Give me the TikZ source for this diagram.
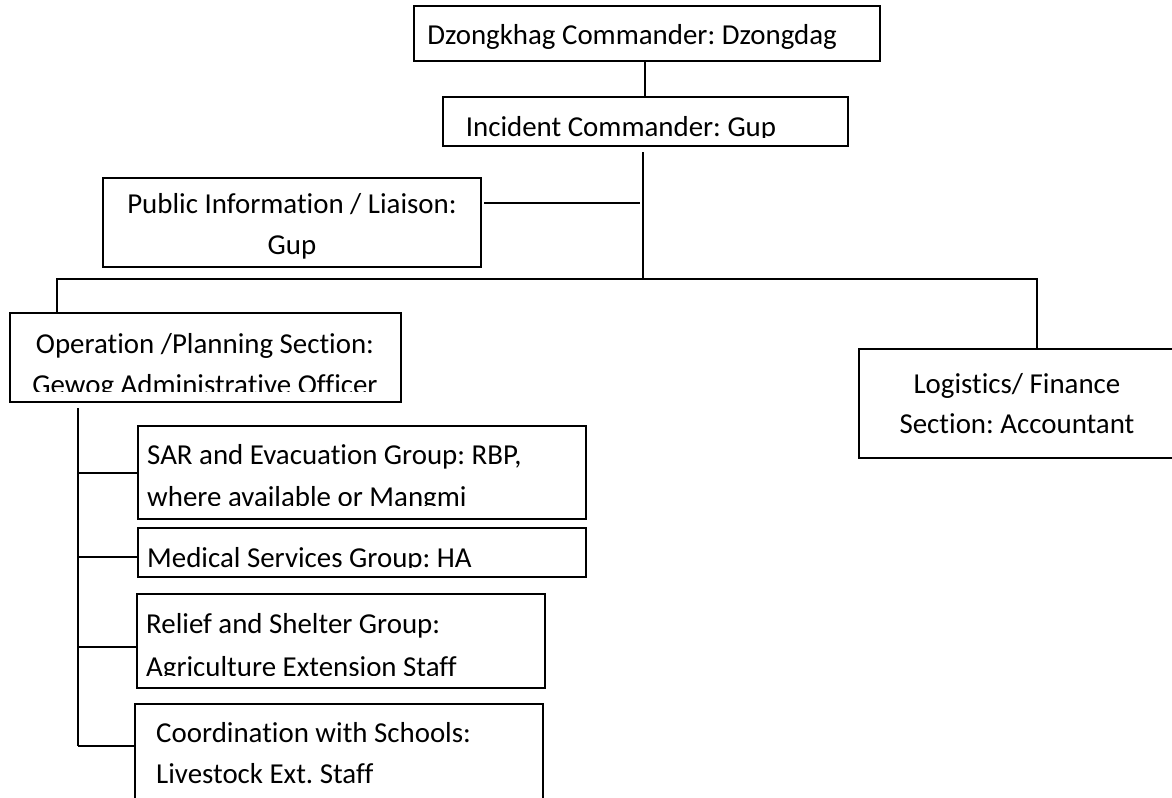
\documentclass[tikz,border=0pt]{standalone}
\usepackage{fontspec}
\setmainfont{Carlito}[Ligatures=NoCommon]
\frenchspacing
\begin{document}
\begin{tikzpicture}[x=1bp,y=-1bp,
  box/.style={draw,line width=1.6bp,inner sep=0pt,outer sep=0pt},
  txt/.style={inner sep=0pt,font=\fontsize{29}{41}\selectfont},
  conn/.style={line width=1.6bp}]
\useasboundingbox (0,0) rectangle (1172,798);
% boxes
\node[box,minimum width=466bp,minimum height=55bp] (dz) at (647,33.5) {};
\node[box,minimum width=405bp,minimum height=49bp] (ic) at (645.5,121.5) {};
\node[box,minimum width=378bp,minimum height=89bp] (pi) at (292,222.5) {};
\node[box,minimum width=391bp,minimum height=89bp] (op) at (205.5,357.5) {};
\node[box,minimum width=326bp,minimum height=109bp] (lf) at (1022,403.5) {};
\node[box,minimum width=448bp,minimum height=93bp] (sar) at (362,472.5) {};
\node[box,minimum width=448bp,minimum height=49bp] (med) at (362,552.5) {};
\node[box,minimum width=408bp,minimum height=94bp] (rel) at (341,641) {};
\node[box,minimum width=408bp,minimum height=106bp] (co) at (339,757) {};
% texts
\node[txt,anchor=base] (dzt) at (632,45) {Dzongkhag Commander: Dzongdag};
\begin{scope}
  \clip (ic.north west) rectangle ([yshift=9bp]ic.south east);
  \node[txt,anchor=base] (ict) at (621,136) {Incident Commander: Gup};
\end{scope}
\node[txt,anchor=base] (pit1) at (292,213) {Public Information / Liaison:};
\node[txt,anchor=base] (pit2) at (292,254) {Gup};
\node[txt,anchor=base] (opt1) at (205,353) {Operation /Planning Section:};
\begin{scope}
  \clip (op.north west) rectangle ([yshift=11bp]op.south east);
  \node[txt,anchor=base] (opt2) at (205,394) {Gewog Administrative Officer};
\end{scope}
\node[txt,anchor=base] (lft1) at (1017,393) {Logistics/ Finance};
\node[txt,anchor=base] (lft2) at (1017,433) {Section: Accountant};
\node[txt,anchor=base west] (sart1) at (147,464) {SAR and Evacuation Group: RBP,};
\begin{scope}
  \clip (sar.north west) rectangle ([yshift=14bp]sar.south east);
  \node[txt,anchor=base west] (sart2) at (147,506) {where available or Mangmi};
\end{scope}
\begin{scope}
  \clip (med.north west) rectangle ([yshift=10bp]med.south east);
  \node[txt,anchor=base west] (medt) at (147,567) {Medical Services Group: HA};
\end{scope}
\node[txt,anchor=base west] (relt1) at (146,633) {Relief and Shelter Group:};
\begin{scope}
  \clip (rel.north west) rectangle ([yshift=13bp]rel.south east);
  \node[txt,anchor=base west] (relt2) at (146,676) {Agriculture Extension Staff};
\end{scope}
\node[txt,anchor=base west] (cot1) at (156,742) {Coordination with Schools:};
\node[txt,anchor=base west] (cot2) at (156,783) {Livestock Ext. Staff};
% connector points
\coordinate (trunktop) at (643,152);
\coordinate (trunk) at (643,279);
\coordinate (pij) at (640,203);
\coordinate (busL) at (57,279);
\coordinate (busR) at (1037,279);
\coordinate (vtop) at (78,408);
\coordinate (vbot) at (78,746);
\coordinate (sarj) at (78,473);
\coordinate (medj) at (78,557);
\coordinate (relj) at (78,647);
% connectors
\draw[conn] (645,0 |- dz.south) -- (645,0 |- ic.north);
\draw[conn] (trunktop) -- (trunk);
\draw[conn] ([xshift=3bp]pi.east |- pij) -- (pij);
\draw[conn] (op.north -| busL) -- (busL) -- (busR) -- (lf.north -| busR);
\draw[conn] (vtop) -- (vbot);
\draw[conn] (sarj) -- (sar.west |- sarj);
\draw[conn] (medj) -- (med.west |- medj);
\draw[conn] (relj) -- (rel.west |- relj);
\draw[conn] (vbot) -- (co.west |- vbot);
\end{tikzpicture}
\end{document}
